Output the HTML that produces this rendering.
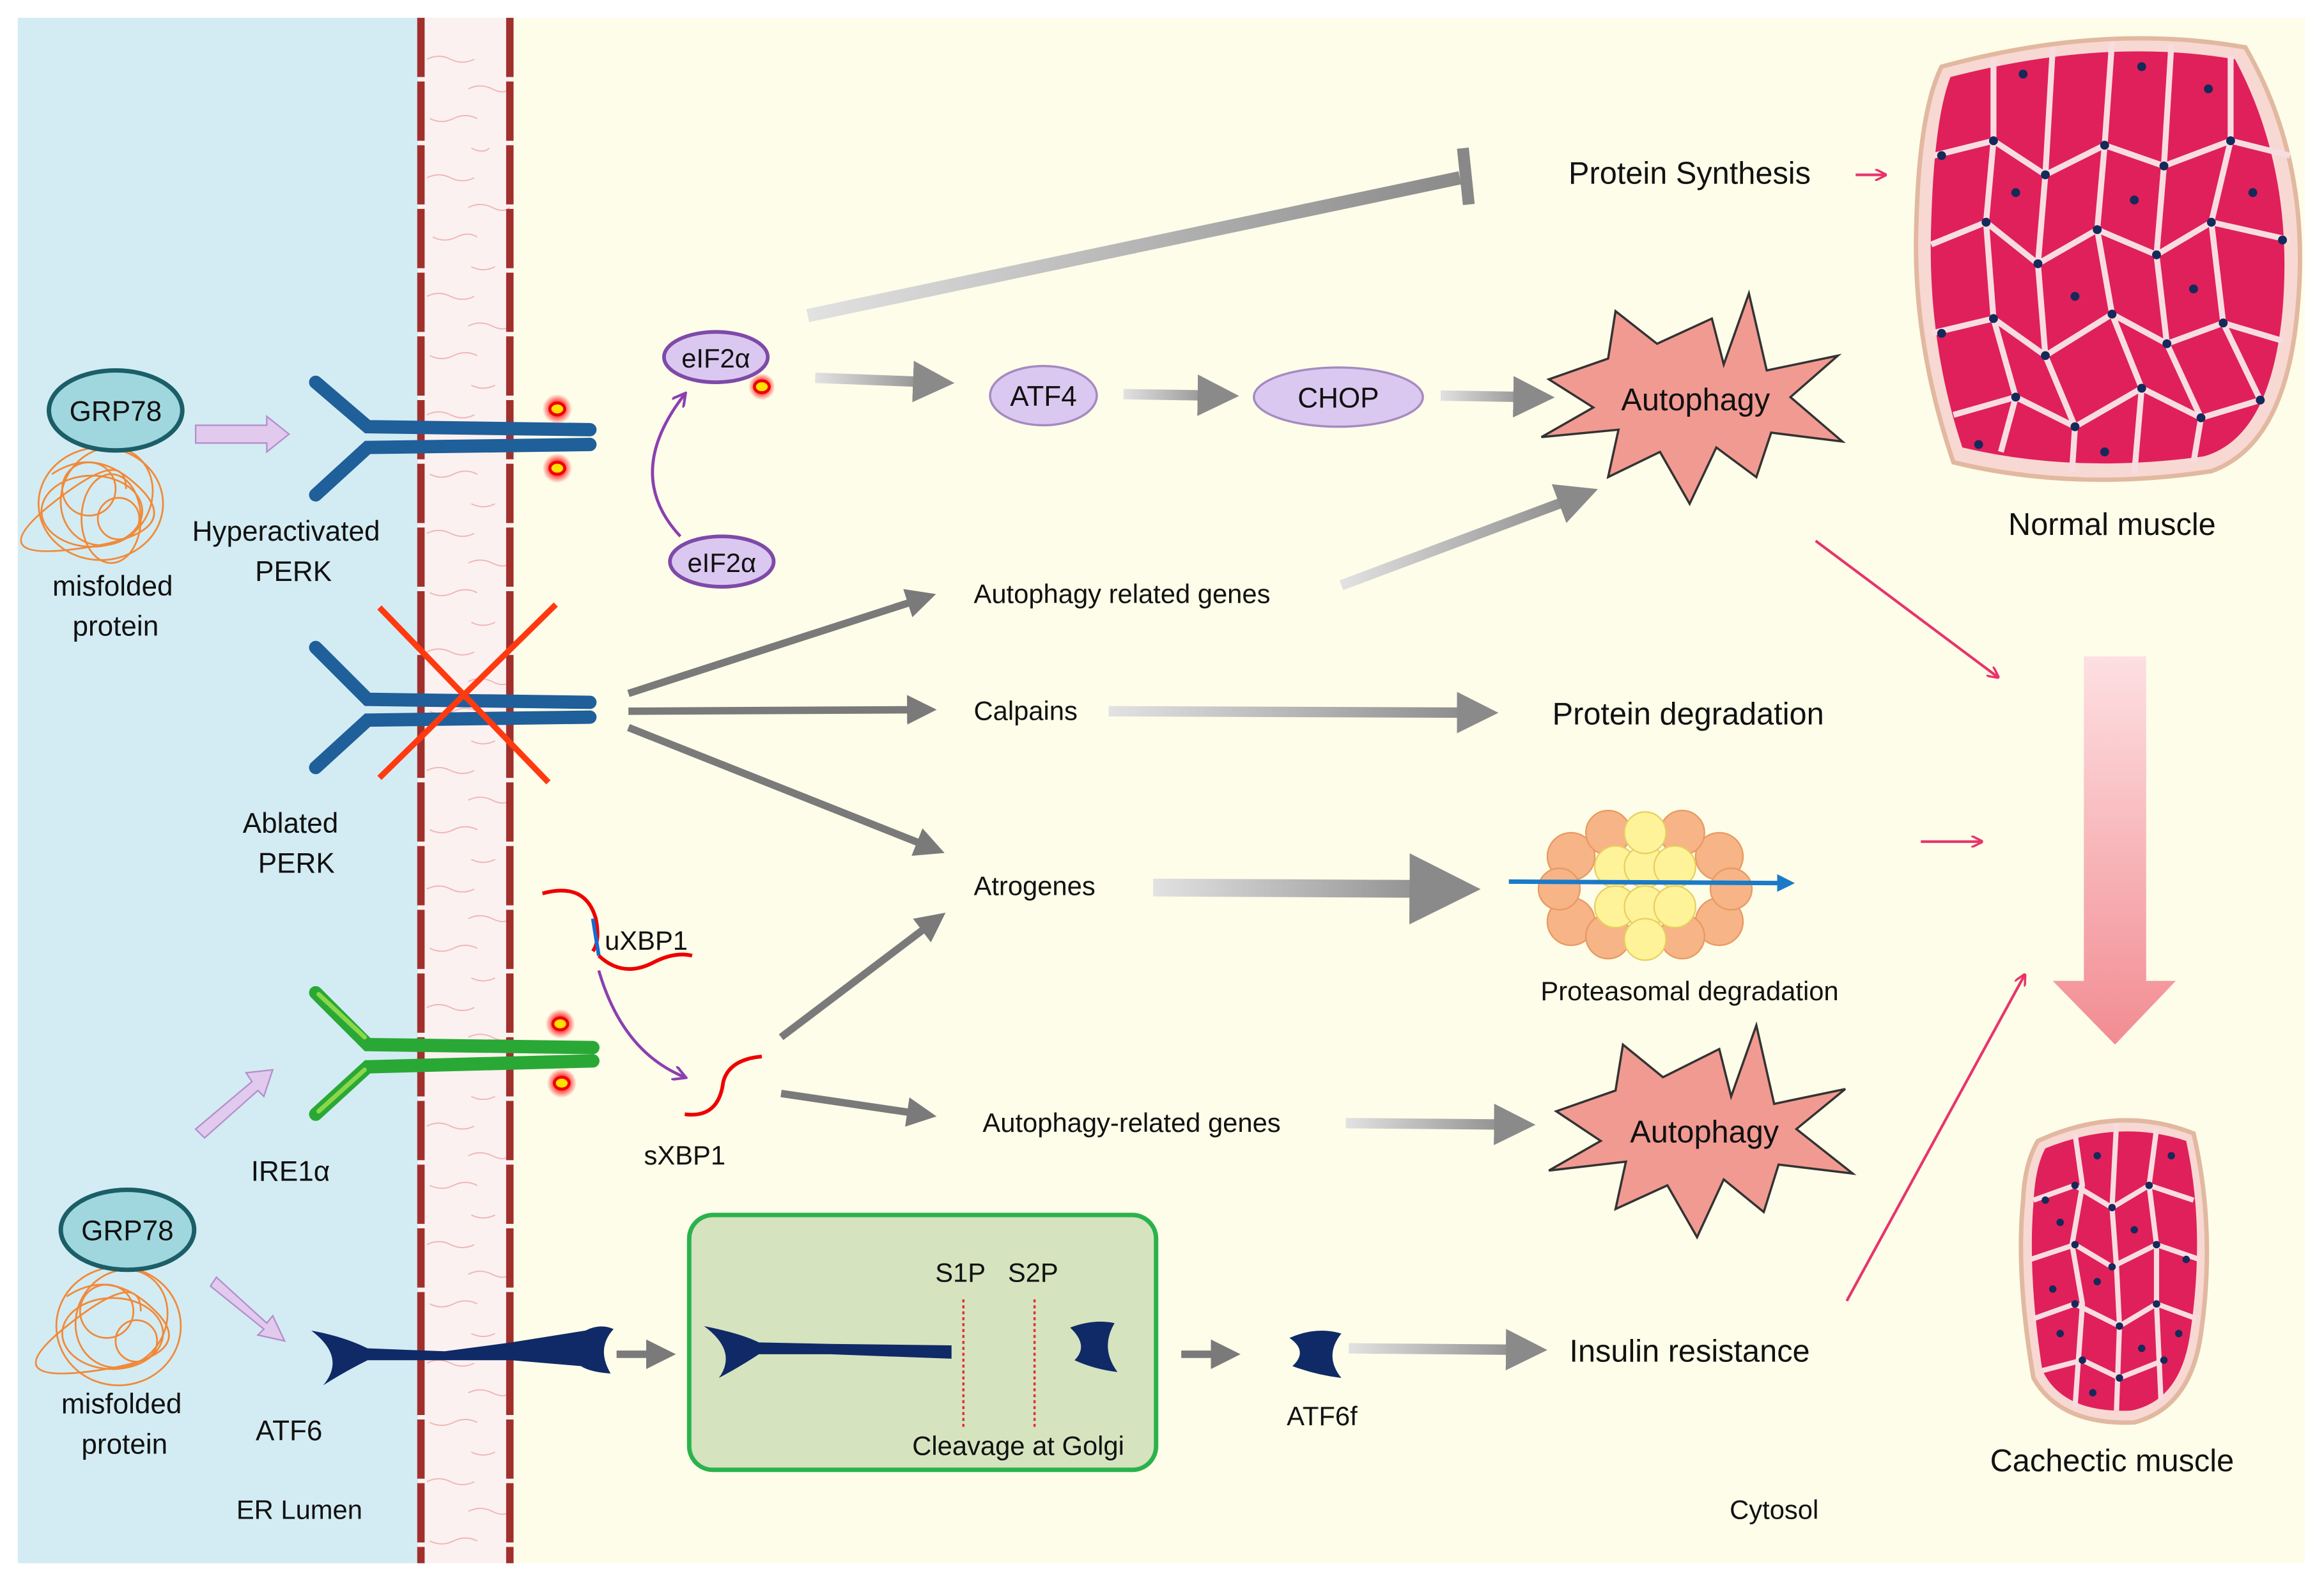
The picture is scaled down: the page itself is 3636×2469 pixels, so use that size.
<!DOCTYPE html>
<html><head><meta charset="utf-8"><style>
html,body{margin:0;padding:0;background:#fff;}
svg{display:block;}
text{font-family:"Liberation Sans",sans-serif;fill:#111;}
</style></head><body>
<svg width="3636" height="2469" viewBox="0 0 1568 1065" preserveAspectRatio="none" xmlns="http://www.w3.org/2000/svg">
<defs>
<linearGradient id="ga" x1="0" x2="1" y1="0" y2="0"><stop offset="0" stop-color="#e2e2e2"/><stop offset="1" stop-color="#8a8a8a"/></linearGradient>
<linearGradient id="gd" x1="0" x2="0" y1="0" y2="1"><stop offset="0" stop-color="#fde0e2"/><stop offset="1" stop-color="#f28c92"/></linearGradient>
<radialGradient id="glow"><stop offset="0.4" stop-color="#ff2020"/><stop offset="1" stop-color="#ff2020" stop-opacity="0"/></radialGradient>
<marker id="gh" markerWidth="4" markerHeight="4" refX="2" refY="2" orient="auto" markerUnits="strokeWidth"><path d="M0,0 L4,2 L0,4 Z" fill="#8a8a8a"/></marker>
<marker id="gh2" markerWidth="4" markerHeight="4" refX="2" refY="2" orient="auto" markerUnits="strokeWidth"><path d="M0,0 L4,2 L0,4 Z" fill="#7a7a7a"/></marker>
<marker id="ph" markerWidth="8" markerHeight="8" refX="7" refY="4" orient="auto" markerUnits="userSpaceOnUse"><path d="M0,0 L8,4 L0,8" fill="none" stroke="#e8336b" stroke-width="1.5"/></marker>
<marker id="vh" markerWidth="10" markerHeight="10" refX="8" refY="5" orient="auto" markerUnits="userSpaceOnUse"><path d="M0,0 L9,5 L0,10" fill="none" stroke="#8b3fb0" stroke-width="1.8"/></marker>
<marker id="bh" markerWidth="4" markerHeight="4" refX="2" refY="2" orient="auto" markerUnits="strokeWidth"><path d="M0,0 L4,2 L0,4 Z" fill="#1a7ac8"/></marker>
</defs>
<rect width="1568" height="1065" fill="#fff"/>
<rect x="12" y="12" width="280" height="1043" fill="#d3ecf3"/>
<rect x="290" y="12" width="1265" height="1043" fill="#fdfde9"/>
<!-- membrane -->
<rect x="282" y="12" width="64" height="1043" fill="#fbf1f1"/>
<g stroke="#f0b4b4" stroke-width="0.8" fill="none">
<path d="M288,40 q8,-4 16,0 t16,0 M290,80 q8,4 16,0 t16,0 M288,120 q8,-4 16,0 t16,0 M292,160 q8,4 16,0 t14,0 M288,200 q8,-4 16,0 t16,0 M290,240 q8,4 16,0 t16,0 M288,280 q8,-4 16,0 t16,0 M290,320 q8,4 16,0 t16,0 M288,360 q8,-4 16,0 t16,0 M290,400 q8,4 16,0 t16,0 M288,440 q8,-4 16,0 t16,0 M290,480 q8,4 16,0 t16,0 M288,520 q8,-4 16,0 t16,0 M290,560 q8,4 16,0 t16,0 M288,600 q8,-4 16,0 t16,0 M290,640 q8,4 16,0 t16,0 M288,680 q8,-4 16,0 t16,0 M290,720 q8,4 16,0 t16,0 M288,760 q8,-4 16,0 t16,0 M290,800 q8,4 16,0 t16,0 M288,840 q8,-4 16,0 t16,0 M290,880 q8,4 16,0 t16,0 M288,920 q8,-4 16,0 t16,0 M290,960 q8,4 16,0 t16,0 M288,1000 q8,-4 16,0 t16,0 M290,1040 q8,4 16,0 t16,0"/>
<path d="M316,60 q8,-4 16,0 t12,0 M318,100 q8,4 12,0 M316,140 q8,-4 16,0 t12,0 M318,180 q8,4 16,0 M316,220 q8,-4 16,0 t12,0 M318,260 q8,4 16,0 M316,300 q8,-4 16,0 t12,0 M318,340 q8,4 16,0 M316,380 q8,-4 16,0 t12,0 M318,420 q8,4 16,0 M316,460 q8,-4 16,0 t12,0 M318,500 q8,4 16,0 M316,540 q8,-4 16,0 t12,0 M318,580 q8,4 16,0 M316,620 q8,-4 16,0 t12,0 M318,660 q8,4 16,0 M316,700 q8,-4 16,0 t12,0 M318,740 q8,4 16,0 M316,780 q8,-4 16,0 t12,0 M318,820 q8,4 16,0 M316,860 q8,-4 16,0 t12,0 M318,900 q8,4 16,0 M316,940 q8,-4 16,0 t12,0 M318,980 q8,4 16,0 M316,1020 q8,-4 16,0 t12,0"/>
</g>
<g stroke="#a1302c" stroke-width="5" stroke-dasharray="40 3" fill="none">
<line x1="284" y1="12" x2="284" y2="1055"/><line x1="344" y1="12" x2="344" y2="1055"/>
</g>
<!-- misfolded protein 1 -->
<g stroke="#f08a3a" stroke-width="1.2" fill="none">
<ellipse cx="68" cy="340" rx="42" ry="38"/><ellipse cx="72" cy="335" rx="30" ry="34" transform="rotate(30 72 335)"/><ellipse cx="62" cy="345" rx="34" ry="24"/><ellipse cx="75" cy="350" rx="20" ry="30"/><circle cx="60" cy="330" r="18"/><circle cx="80" cy="350" r="14"/><path d="M35,320 q30,-20 60,10 t-40,40 t-20,-30 t50,-10"/>
</g>
<ellipse cx="78" cy="277" rx="45" ry="27" fill="#a0d7df" stroke="#1b5e68" stroke-width="3"/>
<text x="78" y="284" font-size="19" text-anchor="middle">GRP78</text>
<text x="76" y="402" font-size="19" text-anchor="middle">misfolded</text>
<text x="78" y="429" font-size="19" text-anchor="middle">protein</text>
<!-- misfolded protein 2 -->
<g stroke="#f08a3a" stroke-width="1.2" fill="none">
<ellipse cx="80" cy="895" rx="42" ry="40"/><ellipse cx="82" cy="890" rx="30" ry="34" transform="rotate(30 82 890)"/><ellipse cx="76" cy="900" rx="34" ry="24"/><circle cx="72" cy="885" r="18"/><circle cx="92" cy="905" r="14"/><path d="M45,875 q30,-20 60,10 t-40,40 t-20,-30 t50,-10"/>
</g>
<ellipse cx="86" cy="830" rx="45" ry="27" fill="#a0d7df" stroke="#1b5e68" stroke-width="3"/>
<text x="86" y="837" font-size="19" text-anchor="middle">GRP78</text>
<text x="82" y="954" font-size="19" text-anchor="middle">misfolded</text>
<text x="84" y="981" font-size="19" text-anchor="middle">protein</text>
<!-- purple block arrows -->
<g fill="#e2c9ee" stroke="#b48fcc" stroke-width="1">
<path d="M132,287 L180,287 L180,281 L195,293 L180,305 L180,299 L132,299 Z"/>
<path d="M132,762 L170,730 L166,724 L184,722 L178,740 L174,736 L138,768 Z"/>
<path d="M146,862 L180,893 L184,888 L192,905 L174,901 L178,897 L142,868 Z"/>
</g>
<!-- PERK 1 -->
<g stroke="#1f5f9a" stroke-width="9" stroke-linecap="round" fill="none">
<path d="M213,258 L248,288 L398,290"/><path d="M213,334 L248,302 L398,300"/>
</g>
<circle cx="376" cy="276" r="10" fill="url(#glow)"/><ellipse cx="376" cy="276" rx="5" ry="4" fill="#ffe000" stroke="#e00" stroke-width="2"/>
<circle cx="376" cy="316" r="10" fill="url(#glow)"/><ellipse cx="376" cy="316" rx="5" ry="4" fill="#ffe000" stroke="#e00" stroke-width="2"/>
<text x="193" y="365" font-size="19" text-anchor="middle">Hyperactivated</text>
<text x="198" y="392" font-size="19" text-anchor="middle">PERK</text>
<!-- PERK 2 ablated -->
<g stroke="#1f5f9a" stroke-width="9" stroke-linecap="round" fill="none">
<path d="M213,437 L248,472 L398,474"/><path d="M213,518 L248,486 L398,484"/>
</g>
<g stroke="#ff3a10" stroke-width="4"><line x1="256" y1="410" x2="370" y2="528"/><line x1="256" y1="525" x2="375" y2="408"/></g>
<text x="196" y="562" font-size="19" text-anchor="middle">Ablated</text>
<text x="200" y="589" font-size="19" text-anchor="middle">PERK</text>
<!-- IRE1 -->
<g stroke="#2aa836" stroke-width="9" stroke-linecap="round" fill="none">
<path d="M213,670 L248,705 L400,707"/><path d="M213,752 L248,720 L400,716"/>
</g>
<g stroke="#8ad84a" stroke-width="3" stroke-linecap="round" fill="none">
<path d="M215,671 L246,700"/><path d="M215,750 L246,722"/>
</g>
<circle cx="378" cy="691" r="10" fill="url(#glow)"/><ellipse cx="378" cy="691" rx="5" ry="4" fill="#ffe000" stroke="#e00" stroke-width="2"/>
<circle cx="379" cy="731" r="10" fill="url(#glow)"/><ellipse cx="379" cy="731" rx="5" ry="4" fill="#ffe000" stroke="#e00" stroke-width="2"/>
<text x="196" y="797" font-size="19" text-anchor="middle">IRE1α</text>
<!-- ATF6 -->
<path d="M210,898 Q232,902 248,910 L300,912 L345,906 L395,898 Q405,893 414,897 Q402,910 412,927 Q398,926 392,922 L345,918 L300,918 L248,918 Q232,926 218,935 Q234,916 210,898 Z" fill="#0f2a66"/>
<text x="195" y="972" font-size="19" text-anchor="middle">ATF6</text>
<text x="202" y="1025" font-size="18" text-anchor="middle">ER Lumen</text>
<text x="1197" y="1025" font-size="18" text-anchor="middle">Cytosol</text>
<!-- eIF2a -->
<ellipse cx="483" cy="241" rx="35" ry="17" fill="#dbc8f0" stroke="#7e4aa8" stroke-width="2.5"/>
<text x="483" y="248" font-size="18" text-anchor="middle">eIF2α</text>
<circle cx="514" cy="261" r="9" fill="url(#glow)"/><ellipse cx="514" cy="261" rx="5" ry="4" fill="#ffe000" stroke="#e00" stroke-width="2"/>
<ellipse cx="487" cy="379" rx="35" ry="17" fill="#dbc8f0" stroke="#7e4aa8" stroke-width="2.5"/>
<text x="487" y="386" font-size="18" text-anchor="middle">eIF2α</text>
<path d="M459,362 Q420,320 462,266" fill="none" stroke="#8b3fb0" stroke-width="2" marker-end="url(#vh)"/>
<!-- inhibition line -->
<path d="M545,213 L985,120" stroke="url(#ga)" stroke-width="9"/>
<line x1="987" y1="100" x2="991" y2="138" stroke="#888" stroke-width="8"/>
<text x="1140" y="124" font-size="21" text-anchor="middle">Protein Synthesis</text>
<!-- gray arrows -->
<g stroke-width="7" fill="none" marker-end="url(#gh)">
<line x1="550" y1="255" x2="630" y2="258" stroke="url(#ga)"/>
<line x1="758" y1="266" x2="822" y2="267" stroke="url(#ga)"/>
<line x1="972" y1="267" x2="1035" y2="268" stroke="url(#ga)"/>
<line x1="905" y1="395" x2="1065" y2="335" stroke="url(#ga)"/>
<line x1="748" y1="480" x2="997" y2="481" stroke="url(#ga)"/>
<line x1="778" y1="599" x2="975" y2="600" stroke="url(#ga)" stroke-width="12"/>
<line x1="908" y1="758" x2="1022" y2="759" stroke="url(#ga)"/>
<line x1="910" y1="910" x2="1030" y2="911" stroke="url(#ga)"/>
</g>
<g stroke="#7a7a7a" stroke-width="5" fill="none" marker-end="url(#gh2)">
<line x1="424" y1="468" x2="622" y2="404"/>
<line x1="424" y1="480" x2="622" y2="479"/>
<line x1="424" y1="491" x2="628" y2="572"/>
<line x1="527" y1="700" x2="630" y2="622"/>
<line x1="527" y1="738" x2="622" y2="752"/>
<line x1="416" y1="914" x2="446" y2="914"/>
<line x1="797" y1="914" x2="827" y2="914"/>
</g>
<!-- ATF4 CHOP -->
<ellipse cx="704" cy="267" rx="36" ry="20" fill="#dbc8f0" stroke="#a58ac0" stroke-width="1.5"/>
<text x="704" y="274" font-size="19" text-anchor="middle">ATF4</text>
<ellipse cx="903" cy="268" rx="57" ry="20" fill="#dbc8f0" stroke="#a58ac0" stroke-width="1.5"/>
<text x="903" y="275" font-size="19" text-anchor="middle">CHOP</text>
<!-- autophagy stars -->
<path d="M1045,256 L1085,242 L1090,210 L1118,232 L1155,215 L1163,246 L1180,198 L1192,250 L1240,240 L1208,268 L1243,298 L1195,292 L1185,322 L1158,302 L1140,340 L1120,305 L1085,322 L1092,290 L1040,295 L1075,275 Z" fill="#f19a92" stroke="#333" stroke-width="1.5"/>
<text x="1144" y="277" font-size="21" text-anchor="middle">Autophagy</text>
<path d="M1050,750 L1090,736 L1095,705 L1122,727 L1160,708 L1168,740 L1185,692 L1197,745 L1245,735 L1212,762 L1250,792 L1200,786 L1190,818 L1163,796 L1145,835 L1125,800 L1090,816 L1097,784 L1045,790 L1080,770 Z" fill="#f19a92" stroke="#333" stroke-width="1.5"/>
<text x="1150" y="771" font-size="21" text-anchor="middle">Autophagy</text>
<!-- labels -->
<text x="657" y="407" font-size="18">Autophagy related genes</text>
<text x="657" y="486" font-size="18">Calpains</text>
<text x="1139" y="489" font-size="21" text-anchor="middle">Protein degradation</text>
<text x="657" y="604" font-size="18">Atrogenes</text>
<text x="1140" y="675" font-size="18" text-anchor="middle">Proteasomal degradation</text>
<text x="663" y="764" font-size="18">Autophagy-related genes</text>
<text x="1140" y="919" font-size="21" text-anchor="middle">Insulin resistance</text>
<text x="892" y="962" font-size="18" text-anchor="middle">ATF6f</text>
<!-- proteasome -->
<g stroke="#e89a60" stroke-width="1" fill="#f6b487">
<circle cx="1060" cy="578" r="16"/><circle cx="1060" cy="622" r="16"/><circle cx="1160" cy="578" r="16"/><circle cx="1160" cy="622" r="16"/><circle cx="1052" cy="600" r="14"/><circle cx="1168" cy="600" r="14"/>
<circle cx="1085" cy="562" r="15"/><circle cx="1135" cy="562" r="15"/><circle cx="1085" cy="632" r="15"/><circle cx="1135" cy="632" r="15"/>
</g>
<g stroke="#e8d060" stroke-width="1" fill="#fff39a">
<circle cx="1090" cy="585" r="14"/><circle cx="1110" cy="585" r="14"/><circle cx="1130" cy="585" r="14"/><circle cx="1090" cy="612" r="14"/><circle cx="1110" cy="612" r="14"/><circle cx="1130" cy="612" r="14"/><circle cx="1110" cy="562" r="14"/><circle cx="1110" cy="634" r="14"/>
</g>
<line x1="1018" y1="595" x2="1205" y2="596" stroke="#1a7ac8" stroke-width="3" marker-end="url(#bh)"/>
<!-- golgi box -->
<rect x="465" y="820" width="315" height="172" rx="16" fill="#d6e3bf" stroke="#2bb24c" stroke-width="3"/>
<path d="M475,895 Q500,900 512,906 L560,907 L642,908 L642,917 L560,914 L512,914 Q500,922 485,930 Q498,912 475,895 Z" fill="#0f2a66"/>
<path d="M722,896 Q738,890 752,893 Q742,910 754,926 Q738,924 725,918 Q735,908 722,896 Z" fill="#0f2a66"/>
<path d="M870,903 Q888,895 905,900 Q893,915 905,930 Q888,928 872,922 Q883,912 870,903 Z" fill="#0f2a66"/>
<line x1="650" y1="877" x2="650" y2="965" stroke="#e03030" stroke-width="1.5" stroke-dasharray="2 2"/>
<line x1="698" y1="877" x2="698" y2="965" stroke="#e03030" stroke-width="1.5" stroke-dasharray="2 2"/>
<text x="648" y="865" font-size="18" text-anchor="middle">S1P</text>
<text x="697" y="865" font-size="18" text-anchor="middle">S2P</text>
<text x="687" y="982" font-size="18" text-anchor="middle">Cleavage at Golgi</text>
<!-- XBP1 -->
<path d="M366,603 Q395,595 402,620 Q405,635 400,642" stroke="#e00" stroke-width="2.5" fill="none"/>
<path d="M400,620 L404,645" stroke="#1a6ad0" stroke-width="2.5" fill="none"/>
<path d="M404,645 Q420,660 440,650 Q455,642 467,645" stroke="#e00" stroke-width="2.5" fill="none"/>
<text x="408" y="641" font-size="18">uXBP1</text>
<path d="M404,655 Q420,710 462,727" stroke="#8b3fb0" stroke-width="2" fill="none" marker-end="url(#vh)"/>
<path d="M462,752 Q485,755 488,730 Q492,715 514,713" stroke="#e00" stroke-width="2.5" fill="none"/>
<text x="462" y="786" font-size="18" text-anchor="middle">sXBP1</text>
<!-- pink arrows -->
<g stroke="#e8336b" stroke-width="1.8" fill="none" marker-end="url(#ph)">
<line x1="1252" y1="118" x2="1272" y2="118"/>
<line x1="1225" y1="365" x2="1348" y2="457"/>
<line x1="1296" y1="568" x2="1337" y2="568"/>
<line x1="1246" y1="878" x2="1366" y2="658"/>
</g>
<!-- big down arrow -->
<path d="M1406,443 L1448,443 L1448,662 L1468,662 L1427,705 L1385,662 L1406,662 Z" fill="url(#gd)"/>
<!-- normal muscle -->
<path d="M1310,45 Q1420,15 1515,32 Q1560,110 1550,210 Q1542,300 1492,318 Q1400,332 1318,312 Q1290,230 1293,150 Q1295,75 1310,45 Z" fill="#f7d8d2" stroke="#e2b8a0" stroke-width="3"/>
<path d="M1316,52 Q1420,25 1508,40 Q1548,115 1540,210 Q1532,295 1487,308 Q1400,320 1324,302 Q1300,230 1303,150 Q1305,80 1316,52 Z" fill="#e0205a"/>
<g stroke="#f7dde2" stroke-width="4" fill="none">
<path d="M1305,105 L1345,95 L1380,118 L1420,98 L1460,112 L1505,95 L1545,105"/>
<path d="M1303,165 L1340,150 L1375,178 L1415,155 L1455,172 L1492,150 L1545,162"/>
<path d="M1303,225 L1345,215 L1380,240 L1425,212 L1462,232 L1500,218 L1540,230"/>
<path d="M1318,280 L1360,268 L1400,288 L1445,262 L1485,282 L1525,270"/>
<path d="M1345,40 L1345,95 L1340,150 L1345,215 L1360,268 L1350,305"/>
<path d="M1385,32 L1380,118 L1375,178 L1380,240 L1400,288 L1398,318"/>
<path d="M1425,28 L1420,98 L1415,155 L1425,212 L1445,262 L1440,320"/>
<path d="M1465,30 L1460,112 L1455,172 L1462,232 L1485,282 L1480,312"/>
<path d="M1505,38 L1505,95 L1492,150 L1500,218 L1525,270"/>
</g>
<g fill="#142a5a">
<circle cx="1345" cy="95" r="3"/><circle cx="1380" cy="118" r="3"/><circle cx="1420" cy="98" r="3"/><circle cx="1460" cy="112" r="3"/><circle cx="1505" cy="95" r="3"/><circle cx="1340" cy="150" r="3"/><circle cx="1375" cy="178" r="3"/><circle cx="1415" cy="155" r="3"/><circle cx="1455" cy="172" r="3"/><circle cx="1492" cy="150" r="3"/><circle cx="1345" cy="215" r="3"/><circle cx="1380" cy="240" r="3"/><circle cx="1425" cy="212" r="3"/><circle cx="1462" cy="232" r="3"/><circle cx="1500" cy="218" r="3"/><circle cx="1360" cy="268" r="3"/><circle cx="1400" cy="288" r="3"/><circle cx="1445" cy="262" r="3"/><circle cx="1485" cy="282" r="3"/><circle cx="1525" cy="270" r="3"/><circle cx="1310" cy="105" r="3"/><circle cx="1540" cy="162" r="3"/><circle cx="1310" cy="225" r="3"/><circle cx="1365" cy="50" r="3"/><circle cx="1445" cy="45" r="3"/><circle cx="1490" cy="60" r="3"/><circle cx="1335" cy="300" r="3"/><circle cx="1420" cy="305" r="3"/><circle cx="1360" cy="130" r="3"/><circle cx="1440" cy="135" r="3"/><circle cx="1400" cy="200" r="3"/><circle cx="1480" cy="195" r="3"/><circle cx="1520" cy="130" r="3"/>
</g>
<text x="1425" y="361" font-size="21" text-anchor="middle">Normal muscle</text>
<!-- cachectic muscle -->
<path d="M1375,770 Q1430,745 1480,765 Q1495,830 1485,900 Q1478,950 1440,960 Q1390,962 1372,930 Q1360,860 1365,810 Q1366,785 1375,770 Z" fill="#f7d8d2" stroke="#e2b8a0" stroke-width="3"/>
<path d="M1380,775 Q1430,755 1475,770 Q1488,830 1478,898 Q1472,945 1438,952 Q1392,954 1378,925 Q1368,860 1372,812 Q1373,788 1380,775 Z" fill="#e0205a"/>
<g stroke="#f7dde2" stroke-width="3.5" fill="none">
<path d="M1372,810 L1400,800 L1425,815 L1450,800 L1480,810"/>
<path d="M1370,850 L1400,840 L1425,855 L1455,840 L1484,850"/>
<path d="M1372,890 L1400,880 L1430,895 L1455,880 L1482,890"/>
<path d="M1378,925 L1405,918 L1430,930 L1460,918"/>
<path d="M1400,765 L1405,800 L1398,840 L1405,880 L1400,950"/>
<path d="M1428,758 L1425,815 L1428,855 L1430,895 L1428,952"/>
<path d="M1455,762 L1450,800 L1455,840 L1455,880 L1458,945"/>
</g>
<g fill="#142a5a">
<circle cx="1400" cy="800" r="2.5"/><circle cx="1425" cy="815" r="2.5"/><circle cx="1450" cy="800" r="2.5"/><circle cx="1400" cy="840" r="2.5"/><circle cx="1425" cy="855" r="2.5"/><circle cx="1455" cy="840" r="2.5"/><circle cx="1400" cy="880" r="2.5"/><circle cx="1430" cy="895" r="2.5"/><circle cx="1455" cy="880" r="2.5"/><circle cx="1405" cy="918" r="2.5"/><circle cx="1430" cy="930" r="2.5"/><circle cx="1460" cy="918" r="2.5"/><circle cx="1380" cy="810" r="2.5"/><circle cx="1475" cy="850" r="2.5"/><circle cx="1385" cy="870" r="2.5"/><circle cx="1470" cy="900" r="2.5"/><circle cx="1415" cy="780" r="2.5"/><circle cx="1440" cy="830" r="2.5"/><circle cx="1415" cy="865" r="2.5"/><circle cx="1445" cy="910" r="2.5"/><circle cx="1390" cy="900" r="2.5"/><circle cx="1390" cy="825" r="2.5"/><circle cx="1465" cy="780" r="2.5"/><circle cx="1412" cy="940" r="2.5"/>
</g>
<text x="1425" y="993" font-size="21" text-anchor="middle">Cachectic muscle</text>
</svg>
</body></html>
